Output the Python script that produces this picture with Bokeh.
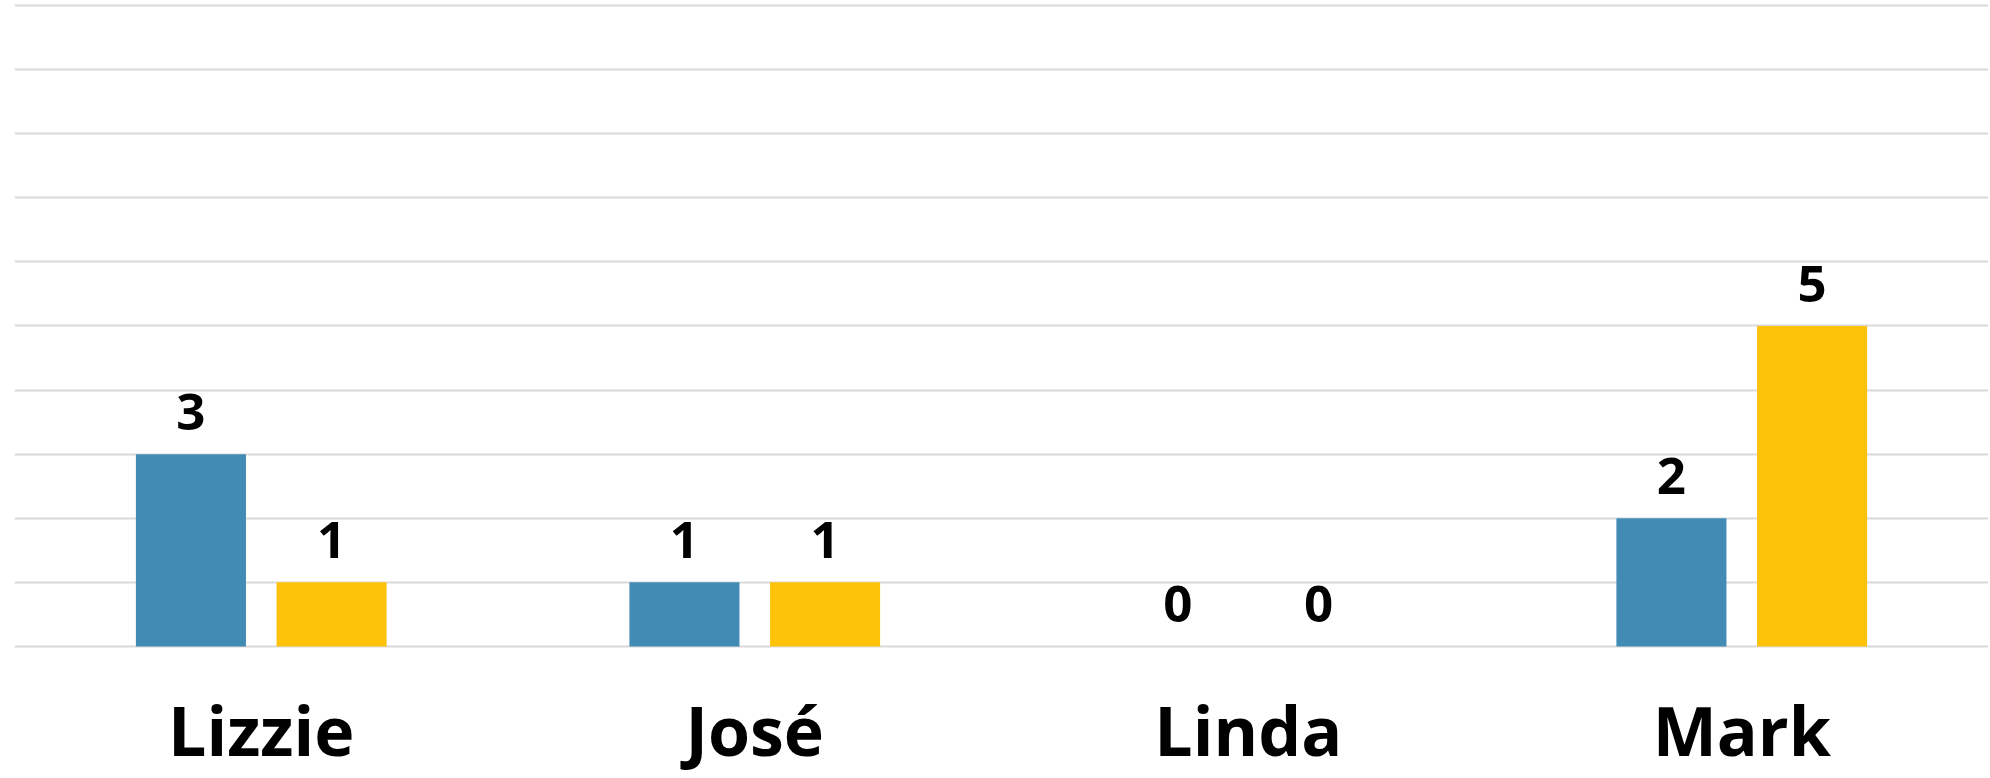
from bokeh.plotting import figure
from bokeh.models import ColumnDataSource, FactorRange, Range1d, LabelSet, FixedTicker
from bokeh.transform import dodge
from bokeh.core.properties import value
from bokeh.embed import file_html
from bokeh.resources import INLINE

names = ["Lizzie", "José", "Linda", "Mark"]
series_a = [3, 1, 0, 2]
series_b = [1, 1, 0, 5]
a_labels = [str(v) for v in series_a]
b_labels = [str(v) for v in series_b]
grid_ticks = list(range(0, 11))

BLUE = "#428bb4"
YELLOW = "#fdc30a"
FONT = "Open Sans"

src = ColumnDataSource(dict(names=names, a=series_a, b=series_b, al=a_labels, bl=b_labels,
                            base=[0] * len(names)))

p = figure(width=1990, height=778, x_range=FactorRange(*names, range_padding=0),
           y_range=Range1d(-2.06, 10.03), output_backend="svg", toolbar_location=None,
           min_border_left=14, min_border_right=2, min_border_top=3, min_border_bottom=0)
p.outline_line_color = None

OFF = 0.1425
W = 0.223
p.vbar(x=dodge("names", -OFF, range=p.x_range), top="a", width=W, source=src,
       fill_color=BLUE, line_color=None)
p.vbar(x=dodge("names", OFF, range=p.x_range), top="b", width=W, source=src,
       fill_color=YELLOW, line_color=None)

for col, ycol, off in (("al", "a", -OFF), ("bl", "b", OFF)):
    lbl = LabelSet(x=dodge("names", off, range=p.x_range), y=ycol, text=col, source=src,
                   text_align="center", text_baseline="alphabetic", y_offset=24,
                   text_font=value(FONT), text_font_style="bold", text_font_size="51px",
                   text_color="#000000")
    p.add_layout(lbl)

# category labels below the baseline
cat = LabelSet(x="names", y="base", text="names", source=src,
               text_align="center", text_baseline="alphabetic", y_offset=-110,
               text_font=value(FONT), text_font_style="bold", text_font_size="68px",
               text_color="#000000")
p.add_layout(cat)

p.xaxis.visible = False
p.yaxis.visible = False
p.ygrid.ticker = FixedTicker(ticks=grid_ticks)
p.ygrid.grid_line_color = "#d9d9d9"
p.ygrid.grid_line_width = 2
p.xgrid.grid_line_color = None

open("out.html", "w").write(file_html(p, INLINE))
